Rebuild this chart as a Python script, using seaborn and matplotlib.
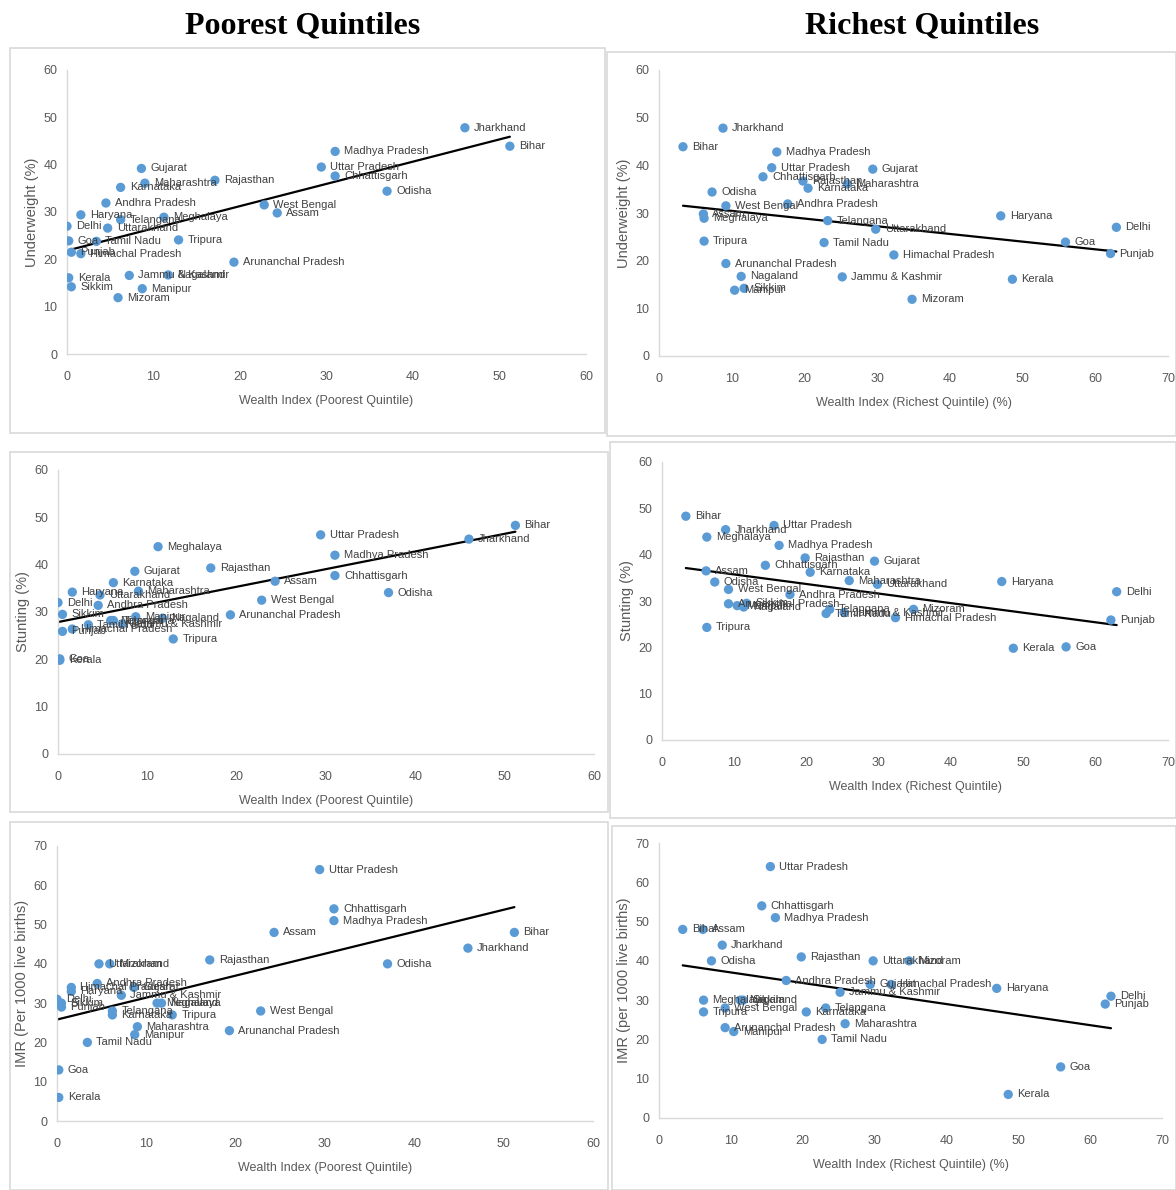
import numpy as np
import pandas as pd
import matplotlib
matplotlib.use("Agg")
import matplotlib.pyplot as plt
from matplotlib.patches import Rectangle
import seaborn as sns

# ---------------- data ----------------
states = ["Andhra Pradesh", "Arunanchal Pradesh", "Assam", "Bihar", "Chhattisgarh",
          "Delhi", "Goa", "Gujarat", "Haryana", "Himachal Pradesh",
          "Jammu & Kashmir", "Jharkhand", "Karnataka", "Kerala", "Madhya Pradesh",
          "Maharashtra", "Manipur", "Meghalaya", "Mizoram", "Nagaland",
          "Odisha", "Punjab", "Rajasthan", "Sikkim", "Tamil Nadu",
          "Telangana", "Tripura", "Uttar Pradesh", "Uttarakhand", "West Bengal"]

wealth_poorest = [4.5, 19.3, 24.3, 51.2, 31.0,
                  0.0, 0.2, 8.6, 1.6, 1.6,
                  7.2, 46.0, 6.2, 0.2, 31.0,
                  9.0, 8.7, 11.2, 5.9, 11.7,
                  37.0, 0.5, 17.1, 0.5, 3.4,
                  6.2, 12.9, 29.4, 4.7, 22.8]

wealth_richest = [17.7, 9.2, 6.1, 3.3, 14.3,
                  62.9, 55.9, 29.4, 47.0, 32.3,
                  25.2, 8.8, 20.5, 48.6, 16.2,
                  25.9, 10.4, 6.2, 34.8, 11.3,
                  7.3, 62.1, 19.8, 11.7, 22.7,
                  23.2, 6.2, 15.5, 29.8, 9.2]

underweight = [31.9, 19.4, 29.8, 43.9, 37.6,
               27.0, 23.9, 39.2, 29.4, 21.2,
               16.6, 47.8, 35.2, 16.1, 42.8,
               36.1, 13.8, 28.9, 11.9, 16.7,
               34.4, 21.5, 36.7, 14.2, 23.8,
               28.4, 24.1, 39.5, 26.6, 31.5]

stunting = [31.4, 29.4, 36.5, 48.3, 37.7,
            32.0, 20.1, 38.6, 34.2, 26.4,
            27.5, 45.4, 36.2, 19.8, 42.0,
            34.4, 29.0, 43.8, 28.2, 28.7,
            34.1, 25.9, 39.3, 29.5, 27.3,
            28.2, 24.3, 46.3, 33.6, 32.5]

imr = [35, 23, 48, 48, 54,
       31, 13, 34, 33, 34,
       32, 44, 27, 6, 51,
       24, 22, 30, 40, 30,
       40, 29, 41, 30, 20,
       28, 27, 64, 40, 28]

df = pd.DataFrame({"state": states, "wp": wealth_poorest, "wr": wealth_richest,
                   "uw": underweight, "st": stunting, "imr": imr})

# ---------------- style ----------------
sns.set_theme(style="white")
plt.rcParams["font.family"] = ["Liberation Sans Narrow", "Liberation Sans", "DejaVu Sans"]

W, H = 1176, 1190
fig = plt.figure(figsize=(W / 100, H / 100), dpi=100)

DOT = "#5B9BD5"
TXT = "#404040"
TICK = "#595959"
GRID = "#D9D9D9"

# panels: (xcol, ycol, xlabel, ylabel, xmax, ymax, box(l,t,r,b) px, axes(l,t,r,b) px)
panels = [
    ("wp", "uw", "Wealth Index (Poorest Quintile)", "Underweight (%)", 60, 60,
     (10, 48, 605, 433), (67, 70, 586, 354)),
    ("wr", "uw", "Wealth Index (Richest Quintile) (%)", "Underweight (%)", 70, 60,
     (607, 52, 1176, 436), (659, 70, 1168, 356)),
    ("wp", "st", "Wealth Index (Poorest Quintile)", "Stunting (%)", 60, 60,
     (10, 452, 608, 812), (58, 470, 594, 754)),
    ("wr", "st", "Wealth Index (Richest Quintile)", "Stunting (%)", 70, 60,
     (610, 442, 1176, 818), (662, 462, 1168, 740)),
    ("wp", "imr", "Wealth Index (Poorest Quintile)", "IMR (Per 1000 live births)", 60, 70,
     (10, 822, 608, 1190), (57, 846, 593, 1121)),
    ("wr", "imr", "Wealth Index (Richest Quintile) (%)", "IMR (per 1000 live births)", 70, 70,
     (612, 826, 1176, 1190), (659, 843, 1162, 1118)),
]

for xcol, ycol, xlab, ylab, xmax, ymax, box, axp in panels:
    bl, bt, br, bb = box
    fig.patches.append(Rectangle((bl / W, 1 - bb / H), (br - bl) / W, (bb - bt) / H,
                                 transform=fig.transFigure, fill=False,
                                 edgecolor=GRID, linewidth=1.2, zorder=0))
    l, t, r, b = axp
    ax = fig.add_axes([l / W, 1 - b / H, (r - l) / W, (b - t) / H])
    ax.set_facecolor("none")

    sns.regplot(data=df, x=xcol, y=ycol, ax=ax, scatter=False, ci=None,
                truncate=True, color="black", line_kws={"linewidth": 1.6, "zorder": 2})
    sns.scatterplot(data=df, x=xcol, y=ycol, ax=ax, color=DOT, s=45,
                    edgecolor="none", zorder=3, legend=False)
    for _, row in df.iterrows():
        ax.annotate(row["state"], (row[xcol], row[ycol]), xytext=(6.5, 0),
                    textcoords="offset points", va="center", ha="left",
                    fontsize=8, color=TXT, zorder=4)

    ax.set_xlim(0, xmax)
    ax.set_ylim(0, ymax)
    ax.set_xticks(np.arange(0, xmax + 1, 10))
    ax.set_yticks(np.arange(0, ymax + 1, 10))
    ax.tick_params(axis="both", length=0, labelsize=9, labelcolor=TICK)
    ax.tick_params(axis="x", pad=12)
    ax.tick_params(axis="y", pad=7)
    for side in ("top", "right"):
        ax.spines[side].set_visible(False)
    for side in ("left", "bottom"):
        ax.spines[side].set_color(GRID)
        ax.spines[side].set_linewidth(1.0)
    ax.set_xlabel(xlab, fontsize=9, color=TICK, labelpad=9)
    ax.set_ylabel(ylab, fontsize=10.5, color=TICK, labelpad=3,
                  family=["Liberation Sans", "DejaVu Sans"])
    ax.grid(False)

fig.text(303 / W, 1 - 26 / H, "Poorest Quintiles", ha="center", va="center",
         fontsize=23, fontweight="bold", family=["Liberation Serif", "DejaVu Serif"],
         color="black")
fig.text(922 / W, 1 - 26 / H, "Richest Quintiles", ha="center", va="center",
         fontsize=23, fontweight="bold", family=["Liberation Serif", "DejaVu Serif"],
         color="black")

fig.savefig("out.png", dpi=100, facecolor="white")
